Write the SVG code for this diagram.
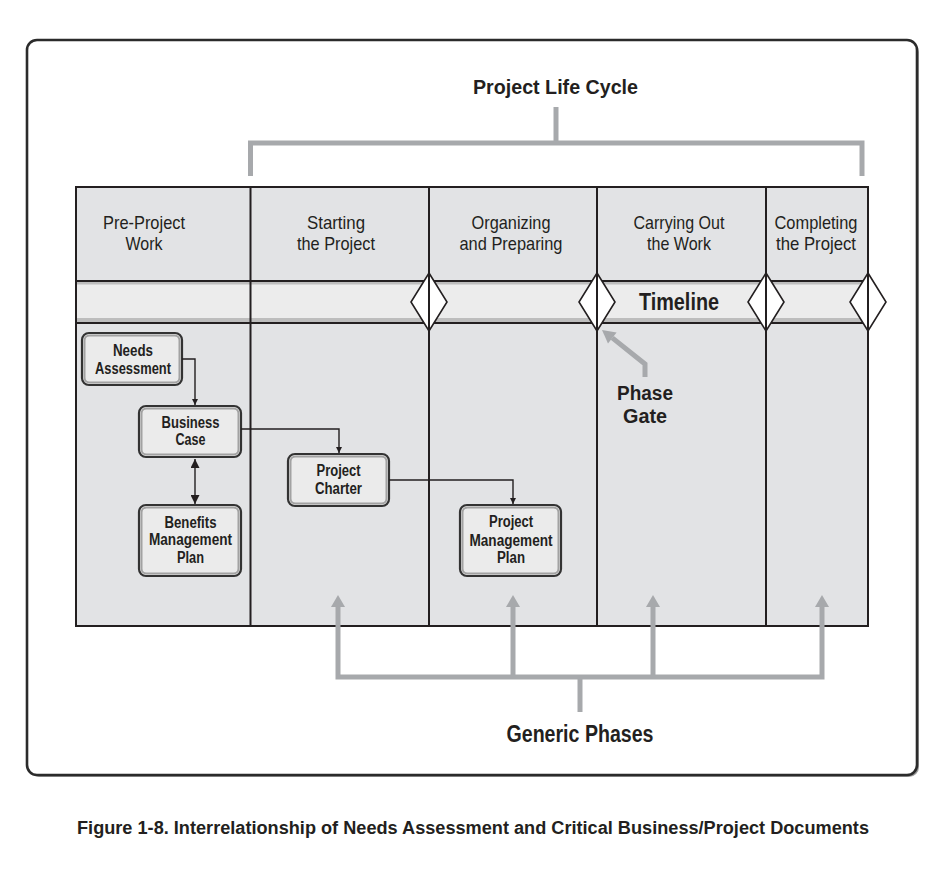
<svg xmlns="http://www.w3.org/2000/svg" width="944" height="876" viewBox="0 0 944 876">
<style>
  text { font-family: "Liberation Sans Narrow", "Liberation Sans", Arial, sans-serif; fill: #231f20; text-anchor: middle; }
  .hdr { font-size: 19px; }
  .nd { font-size: 16px; font-weight: bold; }
  .big { font-size: 23px; font-weight: bold; }
  .pg { font-size: 20px; font-weight: bold; }
  .ttl { font-size: 21px; font-weight: bold; }
  .cap { font-size: 18px; font-weight: bold; text-anchor: start; }
  .grid { stroke: #231f20; stroke-width: 2; fill: none; }
  .nodeOuter { fill: #ebebeb; stroke: #333; stroke-width: 2.2; }
  .nodeInner { fill: none; stroke: #a2a2a2; stroke-width: 2; }
  .conn { fill: none; stroke: #231f20; stroke-width: 1.4; }
  .gray { fill: none; stroke: #a7a9ac; stroke-width: 5; stroke-linecap: butt; }
  .grayHead { fill: #a7a9ac; }
  .gate { fill: #fff; stroke: #231f20; stroke-width: 1.6; }
</style>
<defs>
  <marker id="ah" viewBox="0 0 10 10" refX="10" refY="5" markerWidth="6" markerHeight="7" markerUnits="userSpaceOnUse" orient="auto">
    <path d="M0,0 L10,5 L0,10 Z" fill="#231f20"/>
  </marker>
  <marker id="ahB" viewBox="0 0 10 10" refX="10" refY="5" markerWidth="11" markerHeight="9" markerUnits="userSpaceOnUse" orient="auto-start-reverse">
    <path d="M0,0 L10,5 L0,10 Z" fill="#231f20"/>
  </marker>
</defs>

<rect width="944" height="876" fill="#fff"/>

<!-- outer frame -->
<g id="frame">
  <rect x="29" y="42" width="890" height="735" rx="10" fill="#9a9a9a"/>
  <rect x="27" y="40" width="890" height="735" rx="10" fill="#fff" stroke="#2b2b2b" stroke-width="2.6"/>
</g>

<!-- table -->
<g id="table">
  <rect x="76" y="187" width="792" height="439" fill="#e2e3e5"/>
  <rect x="76" y="281" width="792" height="42" fill="#ececec"/>
  <rect x="76" y="281" width="792" height="3.5" fill="#bdbdbd"/>
  <rect x="76" y="318" width="792" height="4.5" fill="#bdbdbd"/>
  <rect x="76" y="187" width="792" height="439" class="grid"/>
  <line x1="76" y1="281" x2="868" y2="281" class="grid"/>
  <line x1="76" y1="323" x2="868" y2="323" class="grid"/>
  <line x1="250.5" y1="187" x2="250.5" y2="626" class="grid"/>
  <line x1="429" y1="187" x2="429" y2="626" class="grid"/>
  <line x1="597" y1="187" x2="597" y2="626" class="grid"/>
  <line x1="766" y1="187" x2="766" y2="626" class="grid"/>
</g>

<g id="headers">
  <text class="hdr" x="144" y="229" textLength="82" lengthAdjust="spacingAndGlyphs">Pre-Project</text>
  <text class="hdr" x="144" y="250" textLength="37" lengthAdjust="spacingAndGlyphs">Work</text>
  <text class="hdr" x="336" y="229" textLength="58" lengthAdjust="spacingAndGlyphs">Starting</text>
  <text class="hdr" x="336" y="250" textLength="78" lengthAdjust="spacingAndGlyphs">the Project</text>
  <text class="hdr" x="511" y="229" textLength="79" lengthAdjust="spacingAndGlyphs">Organizing</text>
  <text class="hdr" x="511" y="250" textLength="103" lengthAdjust="spacingAndGlyphs">and Preparing</text>
  <text class="hdr" x="679" y="229" textLength="91" lengthAdjust="spacingAndGlyphs">Carrying Out</text>
  <text class="hdr" x="679" y="250" textLength="64" lengthAdjust="spacingAndGlyphs">the Work</text>
  <text class="hdr" x="816" y="229" textLength="83" lengthAdjust="spacingAndGlyphs">Completing</text>
  <text class="hdr" x="816" y="250" textLength="80" lengthAdjust="spacingAndGlyphs">the Project</text>
</g>

<g id="timeline">
  <text class="big" x="679" y="309.5" textLength="80" lengthAdjust="spacingAndGlyphs">Timeline</text>
</g>

<g id="gates">
  <polygon class="gate" points="429,273 447,302 429,331 411,302"/>
  <line x1="429" y1="273" x2="429" y2="331" class="grid"/>
  <polygon class="gate" points="597,273 615,302 597,331 579,302"/>
  <line x1="597" y1="273" x2="597" y2="331" class="grid"/>
  <polygon class="gate" points="766,273 784,302 766,331 748,302"/>
  <line x1="766" y1="273" x2="766" y2="331" class="grid"/>
  <polygon class="gate" points="868,273 886,302 868,331 850,302"/>
  <line x1="868" y1="273" x2="868" y2="331" class="grid"/>
</g>

<g id="phase-gate-label">
  <polyline class="gray" points="645,377 645,364 612.3,337.9"/>
  <polygon class="grayHead" points="602,330 616.6,332.4 608,343.5"/>
  <text class="pg" x="645" y="399.5" textLength="56" lengthAdjust="spacingAndGlyphs">Phase</text>
  <text class="pg" x="645" y="422.5" textLength="44" lengthAdjust="spacingAndGlyphs">Gate</text>
</g>

<!-- nodes -->
<g id="needs-assessment">
  <rect class="nodeOuter" x="82" y="333" width="100" height="52" rx="7"/>
  <rect class="nodeInner" x="84.5" y="335.5" width="95" height="47" rx="5"/>
  <text class="nd" x="133" y="356" textLength="40" lengthAdjust="spacingAndGlyphs">Needs</text>
  <text class="nd" x="133" y="373.5" textLength="76" lengthAdjust="spacingAndGlyphs">Assessment</text>
</g>
<g id="business-case">
  <rect class="nodeOuter" x="139" y="406" width="102" height="51" rx="7"/>
  <rect class="nodeInner" x="141.5" y="408.5" width="97" height="46" rx="5"/>
  <text class="nd" x="190.5" y="427.5" textLength="58" lengthAdjust="spacingAndGlyphs">Business</text>
  <text class="nd" x="190.5" y="445" textLength="30" lengthAdjust="spacingAndGlyphs">Case</text>
</g>
<g id="benefits-management-plan">
  <rect class="nodeOuter" x="139" y="505" width="102" height="71" rx="7"/>
  <rect class="nodeInner" x="141.5" y="507.5" width="97" height="66" rx="5"/>
  <text class="nd" x="190.5" y="527.5" textLength="52" lengthAdjust="spacingAndGlyphs">Benefits</text>
  <text class="nd" x="190.5" y="545" textLength="83" lengthAdjust="spacingAndGlyphs">Management</text>
  <text class="nd" x="190.5" y="562.5" textLength="27" lengthAdjust="spacingAndGlyphs">Plan</text>
</g>
<g id="project-charter">
  <rect class="nodeOuter" x="288" y="454" width="101" height="52" rx="7"/>
  <rect class="nodeInner" x="290.5" y="456.5" width="96" height="47" rx="5"/>
  <text class="nd" x="338.5" y="476" textLength="44" lengthAdjust="spacingAndGlyphs">Project</text>
  <text class="nd" x="338.5" y="493.5" textLength="47" lengthAdjust="spacingAndGlyphs">Charter</text>
</g>
<g id="project-management-plan">
  <rect class="nodeOuter" x="460" y="505" width="101" height="71" rx="7"/>
  <rect class="nodeInner" x="462.5" y="507.5" width="96" height="66" rx="5"/>
  <text class="nd" x="511" y="527" textLength="44" lengthAdjust="spacingAndGlyphs">Project</text>
  <text class="nd" x="511" y="545.5" textLength="83" lengthAdjust="spacingAndGlyphs">Management</text>
  <text class="nd" x="511" y="563" textLength="28" lengthAdjust="spacingAndGlyphs">Plan</text>
</g>

<!-- connectors -->
<g id="connectors">
  <polyline class="conn" points="182,359 195,359 195,405" marker-end="url(#ah)"/>
  <polyline class="conn" points="241,429 339,429 339,453" marker-end="url(#ah)"/>
  <polyline class="conn" points="389,480 513,480 513,504" marker-end="url(#ah)"/>
  <line class="conn" x1="195" y1="459" x2="195" y2="504" stroke-width="2.4" marker-start="url(#ahB)" marker-end="url(#ahB)"/>
</g>

<!-- project life cycle bracket -->
<g id="project-life-cycle">
  <text class="ttl" x="555.5" y="94" textLength="165" lengthAdjust="spacingAndGlyphs">Project Life Cycle</text>
  <line class="gray" x1="556" y1="107" x2="556" y2="143"/>
  <polyline class="gray" points="250.5,176 250.5,143 862,143 862,176"/>
</g>

<!-- generic phases bracket -->
<g id="generic-phases">
  <polyline class="gray" points="338,606 338,677 822,677 822,606"/>
  <line class="gray" x1="513" y1="606" x2="513" y2="677"/>
  <line class="gray" x1="653" y1="606" x2="653" y2="677"/>
  <line class="gray" x1="580" y1="677" x2="580" y2="712"/>
  <polygon class="grayHead" points="338,595 345,607 331,607"/>
  <polygon class="grayHead" points="513,595 520,607 506,607"/>
  <polygon class="grayHead" points="653,595 660,607 646,607"/>
  <polygon class="grayHead" points="822,595 829,607 815,607"/>
  <text class="big" x="580" y="742" textLength="147" lengthAdjust="spacingAndGlyphs">Generic Phases</text>
</g>

<g id="caption">
  <text class="cap" x="77" y="834" textLength="792" lengthAdjust="spacingAndGlyphs">Figure 1-8. Interrelationship of Needs Assessment and Critical Business/Project Documents</text>
</g>
</svg>
